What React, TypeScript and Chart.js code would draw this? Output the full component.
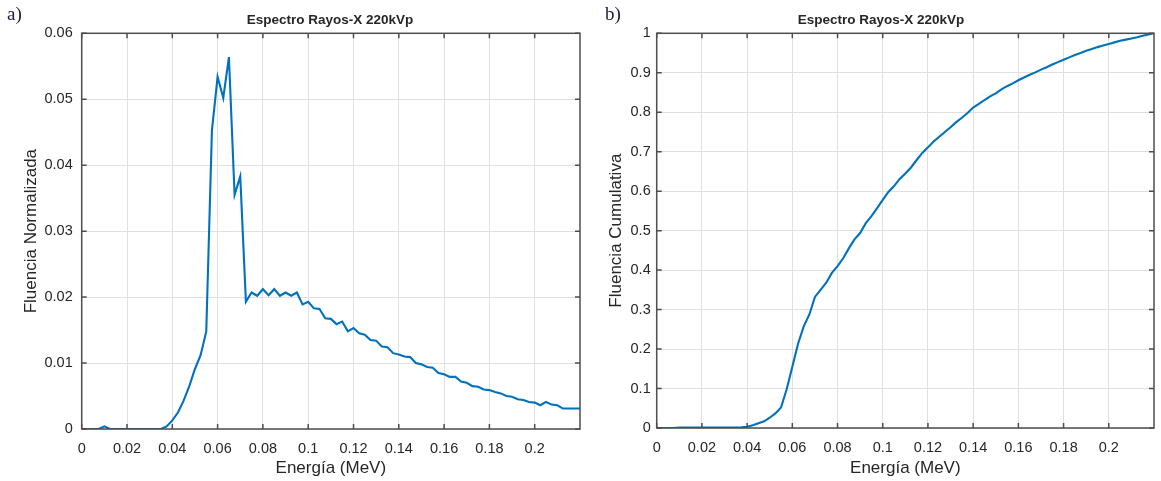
import React, { useEffect, useRef } from 'react';
import { Chart, registerables } from 'chart.js';

Chart.register(...registerables);

// ---------------- Data ----------------
const energyMeV = [
  0, 0.0025, 0.005, 0.0075, 0.01, 0.0125, 0.015, 0.0175, 0.02, 0.0225,
  0.025, 0.0275, 0.03, 0.0325, 0.035, 0.0375, 0.04, 0.0425, 0.045, 0.0475,
  0.05, 0.0525, 0.055, 0.0575, 0.06, 0.0625, 0.065, 0.0675, 0.07, 0.0725,
  0.075, 0.0775, 0.08, 0.0825, 0.085, 0.0875, 0.09, 0.0925, 0.095, 0.0975,
  0.1, 0.1025, 0.105, 0.1075, 0.11, 0.1125, 0.115, 0.1175, 0.12, 0.1225,
  0.125, 0.1275, 0.13, 0.1325, 0.135, 0.1375, 0.14, 0.1425, 0.145, 0.1475,
  0.15, 0.1525, 0.155, 0.1575, 0.16, 0.1625, 0.165, 0.1675, 0.17, 0.1725,
  0.175, 0.1775, 0.18, 0.1825, 0.185, 0.1875, 0.19, 0.1925, 0.195, 0.1975,
  0.2, 0.2025, 0.205, 0.2075, 0.21, 0.2125, 0.215, 0.2175, 0.22,
];

const fluenceNormalized = [
  0, 0, 0, 0, 0.0004, 0, 0, 0, 0, 0,
  0, 0, 0, 0, 0, 0.0004, 0.0013, 0.0025, 0.0043, 0.0065,
  0.0091, 0.0112, 0.0148, 0.0453, 0.0534, 0.0502, 0.0564, 0.0355, 0.0383, 0.0193,
  0.0207, 0.0202, 0.0212, 0.0203, 0.0212, 0.0202, 0.0207, 0.0202, 0.0207, 0.0189,
  0.0193, 0.0183, 0.0182, 0.0168, 0.0167, 0.0159, 0.0163, 0.0148, 0.0153, 0.0145,
  0.0143, 0.0135, 0.0134, 0.0125, 0.0124, 0.0115, 0.0113, 0.011, 0.0109, 0.01,
  0.0098, 0.0094, 0.0093, 0.0085, 0.0083, 0.0079, 0.0079, 0.0072, 0.007, 0.0065,
  0.0064, 0.006, 0.0059, 0.0056, 0.0054, 0.005, 0.0049, 0.0045, 0.0044, 0.0041,
  0.004, 0.0036, 0.0041, 0.0037, 0.0036, 0.0031, 0.0031, 0.0031, 0.0031,
];

const fluenceCumulative = [
  0, 0, 0, 0, 0.001, 0.001, 0.001, 0.001, 0.001, 0.001,
  0.001, 0.001, 0.001, 0.001, 0.001, 0.0015, 0.003, 0.007, 0.012, 0.017,
  0.026, 0.037, 0.052, 0.098, 0.155, 0.213, 0.257, 0.287, 0.332, 0.35,
  0.368, 0.393, 0.41, 0.43, 0.455, 0.478, 0.494, 0.519, 0.537, 0.557,
  0.578, 0.598, 0.613, 0.631, 0.645, 0.66, 0.679, 0.697, 0.711, 0.726,
  0.738, 0.75, 0.762, 0.775, 0.786, 0.798, 0.812, 0.821, 0.831, 0.84,
  0.848, 0.858, 0.866, 0.873, 0.881, 0.888, 0.895, 0.901, 0.908, 0.914,
  0.921, 0.927, 0.933, 0.939, 0.945, 0.95, 0.956, 0.96, 0.965, 0.969,
  0.973, 0.977, 0.981, 0.984, 0.987, 0.99, 0.994, 0.997, 1.0,
];

const xTickValues = [0, 0.02, 0.04, 0.06, 0.08, 0.1, 0.12, 0.14, 0.16, 0.18, 0.2];
const xTickLabels = ['0', '0.02', '0.04', '0.06', '0.08', '0.1', '0.12', '0.14', '0.16', '0.18', '0.2'];
const yTickValuesA = [0, 0.01, 0.02, 0.03, 0.04, 0.05, 0.06];
const yTickLabelsA = ['0', '0.01', '0.02', '0.03', '0.04', '0.05', '0.06'];
const yTickValuesB = [0, 0.1, 0.2, 0.3, 0.4, 0.5, 0.6, 0.7, 0.8, 0.9, 1];
const yTickLabelsB = ['0', '0.1', '0.2', '0.3', '0.4', '0.5', '0.6', '0.7', '0.8', '0.9', '1'];

const chartTitle = 'Espectro Rayos-X 220kVp';
const xAxisTitle = 'Energía (MeV)';
const yAxisTitleA = 'Fluencia Normalizada';
const yAxisTitleB = 'Fluencia Cumulativa';

// ---------------- Styling ----------------
const FONT = "'Liberation Sans', Arial, Helvetica, sans-serif";
const LINE_COLOR = '#0072BD';
const TEXT_COLOR = '#262626';
const GRID_COLOR = '#e0e0e0';
const BOX_COLOR = '#4d4d4d';

const boxPlugin = {
  id: 'matlabBox',
  afterDraw(chart: any, _args: any, opts: any) {
    const { ctx, chartArea } = chart;
    const { left, right, top, bottom } = chartArea;
    const xs = chart.scales.x;
    const ys = chart.scales.y;
    const tl = 5;
    ctx.save();
    ctx.strokeStyle = BOX_COLOR;
    ctx.lineWidth = 1.5;
    ctx.strokeRect(left, top, right - left, bottom - top);
    ctx.beginPath();
    xs.ticks.forEach((t: any) => {
      const p = xs.getPixelForValue(t.value);
      ctx.moveTo(p, bottom);
      ctx.lineTo(p, bottom - tl);
      ctx.moveTo(p, top);
      ctx.lineTo(p, top + tl);
    });
    ys.ticks.forEach((t: any) => {
      const p = ys.getPixelForValue(t.value);
      ctx.moveTo(left, p);
      ctx.lineTo(left + tl, p);
      ctx.moveTo(right, p);
      ctx.lineTo(right - tl, p);
    });
    ctx.stroke();
    // title
    ctx.fillStyle = TEXT_COLOR;
    ctx.font = `bold 13.5px ${FONT}`;
    ctx.textAlign = 'center';
    ctx.textBaseline = 'middle';
    ctx.fillText(opts.text, opts.x, opts.y);
    ctx.restore();
  },
};

type PanelCfg = {
  width: number;
  height: number;
  left: number;
  yValues: number[];
  yMax: number;
  yTicks: number[];
  yLabels: string[];
  yTitle: string;
  yAxisWidth: number;
  yTickPad: number;
  yTitlePad: number;
  padRight: number;
  padTop: number;
  xAxisHeight: number;
  titleX: number;
};

function Panel({ cfg }: { cfg: PanelCfg }) {
  const ref = useRef<HTMLCanvasElement>(null);
  useEffect(() => {
    const points = energyMeV.map((e, i) => ({ x: e, y: cfg.yValues[i] }));
    const chart = new Chart(ref.current as HTMLCanvasElement, {
      type: 'line',
      data: {
        datasets: [
          {
            data: points,
            borderColor: LINE_COLOR,
            backgroundColor: LINE_COLOR,
            borderWidth: 2.1,
            pointRadius: 0,
            tension: 0,
            fill: false,
          },
        ],
      },
      options: {
        responsive: false,
        animation: false,
        devicePixelRatio: 1,
        layout: { padding: { left: 0, right: cfg.padRight, top: cfg.padTop, bottom: 0 } },
        plugins: {
          legend: { display: false },
          tooltip: { enabled: false },
          title: { display: false },
          matlabBox: { text: chartTitle, x: cfg.titleX, y: 20 },
        },
        scales: {
          x: {
            type: 'linear',
            min: 0,
            max: 0.22,
            afterBuildTicks: (scale: any) => {
              scale.ticks = xTickValues.map((v) => ({ value: v }));
            },
            afterFit: (scale: any) => {
              scale.height = cfg.xAxisHeight;
            },
            ticks: {
              color: TEXT_COLOR,
              font: { family: FONT, size: 14.5 },
              padding: 11,
              maxRotation: 0,
              autoSkip: false,
              callback: (_v: any, i: number) => xTickLabels[i],
            },
            grid: { color: GRID_COLOR, lineWidth: 1, drawTicks: false },
            border: { display: false },
            title: {
              display: true,
              text: xAxisTitle,
              color: TEXT_COLOR,
              font: { family: FONT, size: 17, lineHeight: 1.2 },
              padding: { top: 0, bottom: 2.8 },
            },
          },
          y: {
            type: 'linear',
            min: 0,
            max: cfg.yMax,
            afterBuildTicks: (scale: any) => {
              scale.ticks = cfg.yTicks.map((v) => ({ value: v }));
            },
            afterFit: (scale: any) => {
              scale.width = cfg.yAxisWidth;
            },
            ticks: {
              color: TEXT_COLOR,
              font: { family: FONT, size: 14.5 },
              padding: cfg.yTickPad,
              autoSkip: false,
              callback: (_v: any, i: number) => cfg.yLabels[i],
            },
            grid: { color: GRID_COLOR, lineWidth: 1, drawTicks: false },
            border: { display: false },
            title: {
              display: true,
              text: cfg.yTitle,
              color: TEXT_COLOR,
              font: { family: FONT, size: 17, lineHeight: 1.2 },
              padding: { top: cfg.yTitlePad, bottom: 0 },
            },
          },
        },
      } as any,
      plugins: [boxPlugin],
    });
    return () => chart.destroy();
  }, []);
  return (
    <canvas
      ref={ref}
      width={cfg.width}
      height={cfg.height}
      style={{ position: 'absolute', left: cfg.left, top: 0, width: cfg.width, height: cfg.height }}
    />
  );
}

const panelA: PanelCfg = {
  width: 600,
  height: 481,
  left: 0,
  yValues: fluenceNormalized,
  yMax: 0.06,
  yTicks: yTickValuesA,
  yLabels: yTickLabelsA,
  yTitle: yAxisTitleA,
  yAxisWidth: 81.7,
  yTickPad: 9,
  yTitlePad: 20.8,
  padRight: 20,
  padTop: 33.3,
  xAxisHeight: 52,
  titleX: 330,
};

const panelB: PanelCfg = {
  width: 561,
  height: 481,
  left: 600,
  yValues: fluenceCumulative,
  yMax: 1,
  yTicks: yTickValuesB,
  yLabels: yTickLabelsB,
  yTitle: yAxisTitleB,
  yAxisWidth: 56.7,
  yTickPad: 6,
  yTitlePad: 5.8,
  padRight: 7,
  padTop: 33.3,
  xAxisHeight: 53,
  titleX: 281,
};

const labelStyle: React.CSSProperties = {
  position: 'absolute',
  top: 3,
  fontFamily: "'Liberation Serif', 'Times New Roman', serif",
  fontSize: 19,
  color: '#1c1c3a',
  lineHeight: '22px',
};

export default function App() {
  return (
    <div style={{ position: 'absolute', left: 0, top: 0, width: 1161, height: 481, background: '#fff', overflow: 'hidden' }}>
      <Panel cfg={panelA} />
      <Panel cfg={panelB} />
      <span style={{ ...labelStyle, left: 7 }}>a)</span>
      <span style={{ ...labelStyle, left: 605 }}>b)</span>
    </div>
  );
}
